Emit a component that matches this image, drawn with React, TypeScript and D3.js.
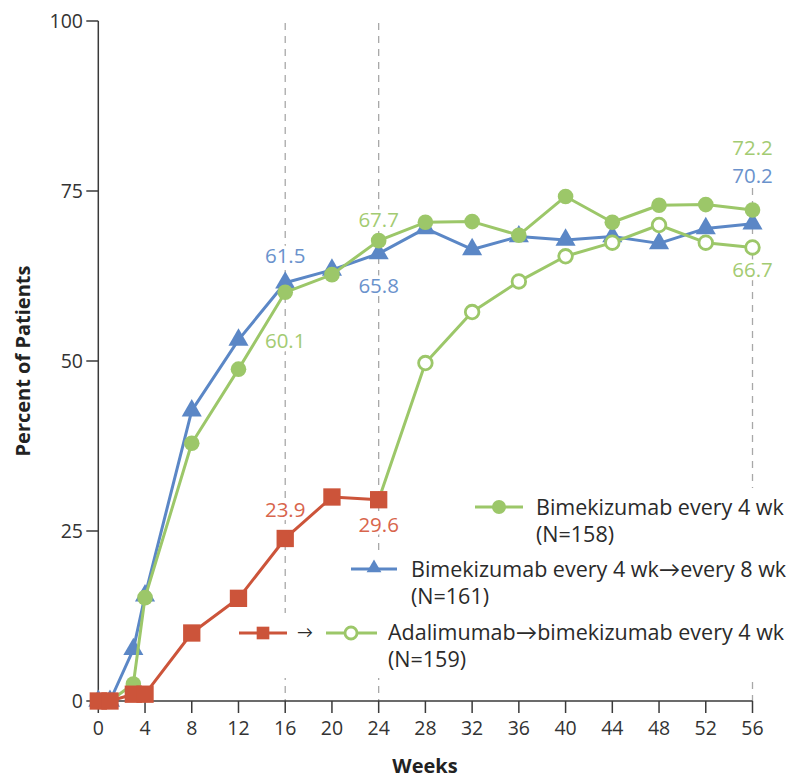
import React from "react";
import * as d3 from "d3";

// ---- data ----
const weeks = [0, 1, 3, 4, 8, 12, 16, 20, 24, 28, 32, 36, 40, 44, 48, 52, 56];
const bimekQ4 = [0, 0, 2.5, 15.2, 37.9, 48.8, 60.1, 62.7, 67.7, 70.4, 70.5, 68.5, 74.2, 70.4, 72.9, 73.0, 72.2];
const bimekQ4Q8 = [0, 0, 7.6, 15.5, 42.7, 53.1, 61.5, 63.4, 65.8, 69.5, 66.4, 68.3, 67.8, 68.3, 67.3, 69.5, 70.2];
const adaWeeks = [0, 1, 3, 4, 8, 12, 16, 20, 24];
const adalimumab = [0, 0, 1.0, 1.0, 10.0, 15.1, 23.9, 30.0, 29.6];
const switchWeeks = [28, 32, 36, 40, 44, 48, 52, 56];
const switchValues = [49.7, 57.2, 61.7, 65.4, 67.4, 70.0, 67.4, 66.7];

const xTicks = [0, 4, 8, 12, 16, 20, 24, 28, 32, 36, 40, 44, 48, 52, 56];
const yTicks = [0, 25, 50, 75, 100];
const refWeeks = [16, 24, 56];

// annotation labels: [week, value text, series]
const annotations: [number, string, string][] = [
  [16, "61.5", "blue"],
  [16, "60.1", "green"],
  [24, "67.7", "green"],
  [24, "65.8", "blue"],
  [16, "23.9", "red"],
  [24, "29.6", "red"],
  [56, "72.2", "green"],
  [56, "70.2", "blue"],
  [56, "66.7", "green"],
];
const annotationY = [263, 348, 227, 293, 517, 532, 155, 183, 277];

const legendLabels = [
  ["Bimekizumab every 4 wk", "(N=158)"],
  ["Bimekizumab every 4 wk\u2192every 8 wk", "(N=161)"],
  ["Adalimumab\u2192bimekizumab every 4 wk", "(N=159)"],
];

const GREEN = "#9cc769";
const BLUE = "#5b87c6";
const RED = "#cc543a";
const GREEN_T = "#a3cb72";
const BLUE_T = "#6a92cc";
const RED_T = "#d8654c";
const AXIS = "#3a3a3a";
const FONT = "'Open Sans', Lato, sans-serif";

export default function App() {
  const x = d3.scaleLinear().domain([0, 56]).range([98.3, 752.5]);
  const y = d3.scaleLinear().domain([0, 100]).range([701, 21]);
  const line = d3
    .line<[number, number]>()
    .x((d) => x(d[0]))
    .y((d) => y(d[1]));

  const gPts = weeks.map((w, i) => [w, bimekQ4[i]] as [number, number]);
  const bPts = weeks.map((w, i) => [w, bimekQ4Q8[i]] as [number, number]);
  const rPts = adaWeeks.map((w, i) => [w, adalimumab[i]] as [number, number]);
  const sPts: [number, number][] = [
    [adaWeeks[adaWeeks.length - 1], adalimumab[adalimumab.length - 1]],
    ...switchWeeks.map((w, i) => [w, switchValues[i]] as [number, number]),
  ];

  const tri = d3.symbol().type(d3.symbolTriangle).size(175)()!;
  const sq = d3.symbol().type(d3.symbolSquare).size(300)()!;
  const triL = d3.symbol().type(d3.symbolTriangle).size(95)()!;
  const sqL = d3.symbol().type(d3.symbolSquare).size(160)()!;

  const colorT: Record<string, string> = { green: GREEN_T, blue: BLUE_T, red: RED_T };

  return (
    <svg
      width={789}
      height={780}
      style={{ position: "absolute", left: 0, top: 0, background: "#fff" }}
      fontFamily={FONT}
    >
      {/* reference dashed lines */}
      {refWeeks.map((w) => (
        <line
          key={w}
          x1={x(w)}
          x2={x(w)}
          y1={w === 56 ? 188 : 23}
          y2={y(0)}
          stroke="#a8a8a8"
          strokeWidth={1.3}
          strokeDasharray="7,6"
        />
      ))}

      {/* annotation labels with halo */}
      {annotations.map(([w, t, s], i) => (
        <text
          key={i}
          x={x(w)}
          y={annotationY[i]}
          textAnchor="middle"
          fontSize={20.5}
          fill={colorT[s]}
          stroke="#fff"
          strokeWidth={7}
          paintOrder="stroke"
          strokeLinejoin="round"
        >
          {t}
        </text>
      ))}

      {/* axes */}
      <line x1={x(0)} x2={x(0)} y1={y(100)} y2={y(0)} stroke={AXIS} strokeWidth={1.5} />
      <line x1={x(0)} x2={x(56)} y1={y(0)} y2={y(0)} stroke={AXIS} strokeWidth={1.5} />
      {yTicks.map((t) => (
        <g key={t}>
          <line x1={x(0) - 12} x2={x(0)} y1={y(t)} y2={y(t)} stroke={AXIS} strokeWidth={1.5} />
          <text x={83} y={y(t) + 7} textAnchor="end" fontSize={19.5} fill="#333">
            {t}
          </text>
        </g>
      ))}
      {xTicks.map((t) => (
        <g key={t}>
          <line x1={x(t)} x2={x(t)} y1={y(0)} y2={y(0) + 12} stroke={AXIS} strokeWidth={1.5} />
          <text x={x(t)} y={735} textAnchor="middle" fontSize={19.5} fill="#333">
            {t}
          </text>
        </g>
      ))}
      <text x={425} y={773} textAnchor="middle" fontSize={20} fontWeight="bold" fill="#222">
        Weeks
      </text>
      <text
        transform="translate(30,361) rotate(-90)"
        textAnchor="middle"
        fontSize={20}
        fontWeight="bold"
        fill="#222"
      >
        Percent of Patients
      </text>

      {/* blue series */}
      <path d={line(bPts)!} fill="none" stroke={BLUE} strokeWidth={3} strokeLinejoin="round" />
      {bPts.map((p, i) => (
        <path key={i} d={tri} transform={`translate(${x(p[0])},${y(p[1])})`} fill={BLUE} />
      ))}

      {/* switch series (open circles) */}
      <path d={line(sPts)!} fill="none" stroke={GREEN} strokeWidth={3} strokeLinejoin="round" />
      {switchWeeks.map((w, i) => (
        <circle key={i} cx={x(w)} cy={y(switchValues[i])} r={6.8} fill="#fff" stroke={GREEN} strokeWidth={2.8} />
      ))}

      {/* green filled series */}
      <path d={line(gPts)!} fill="none" stroke={GREEN} strokeWidth={3} strokeLinejoin="round" />
      {gPts.map((p, i) => (
        <circle key={i} cx={x(p[0])} cy={y(p[1])} r={7.8} fill={GREEN} />
      ))}

      {/* red series */}
      <path d={line(rPts)!} fill="none" stroke={RED} strokeWidth={3} strokeLinejoin="round" />
      {rPts.map((p, i) => (
        <path key={i} d={sq} transform={`translate(${x(p[0])},${y(p[1])})`} fill={RED} />
      ))}

      {/* legend */}
      <rect x={470} y={488} width={319} height={64} fill="#fff" />
      <rect x={345} y={552} width={444} height={61} fill="#fff" />
      <rect x={234} y={613} width={555} height={65} fill="#fff" />

      <line x1={475} x2={523} y1={507} y2={507} stroke={GREEN} strokeWidth={3} />
      <circle cx={499} cy={507} r={7} fill={GREEN} />
      <text x={536} y={515} fontSize={21.5} fill="#2a2a2a">
        {legendLabels[0][0]}
      </text>
      <text x={536} y={542} fontSize={21.5} fill="#2a2a2a">
        {legendLabels[0][1]}
      </text>

      <line x1={351} x2={397} y1={569} y2={569} stroke={BLUE} strokeWidth={3} />
      <path d={triL} transform="translate(374,568)" fill={BLUE} />
      <text x={411} y={576.5} fontSize={21.5} fill="#2a2a2a">
        {legendLabels[1][0]}
      </text>
      <text x={411} y={603.5} fontSize={21.5} fill="#2a2a2a">
        {legendLabels[1][1]}
      </text>

      <line x1={239} x2={287} y1={633} y2={633} stroke={RED} strokeWidth={3} />
      <path d={sqL} transform="translate(263,633)" fill={RED} />
      <text x={305} y={638} textAnchor="middle" fontSize={16} fill="#2a2a2a">
        {"\u2192"}
      </text>
      <line x1={326} x2={377} y1={633} y2={633} stroke={GREEN} strokeWidth={3} />
      <circle cx={351} cy={633} r={6} fill="#fff" stroke={GREEN} strokeWidth={2.8} />
      <text x={388} y={640} fontSize={21.5} fill="#2a2a2a">
        {legendLabels[2][0]}
      </text>
      <text x={388} y={667} fontSize={21.5} fill="#2a2a2a">
        {legendLabels[2][1]}
      </text>
    </svg>
  );
}
